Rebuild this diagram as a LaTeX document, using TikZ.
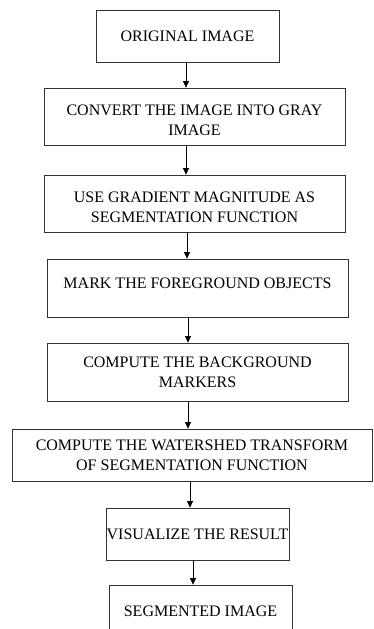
\documentclass[tikz,border=0pt]{standalone}
\usepackage{fontspec}
\setmainfont{Liberation Serif}
\usetikzlibrary{arrows.meta}
\begin{document}
\begin{tikzpicture}[x=1pt,y=1pt,
  stepbox/.style={draw=black!80,line width=0.8pt,rectangle,align=center,inner sep=0pt,
    font=\fontsize{16}{20}\selectfont},
  arr/.style={draw=black,line width=0.8pt,-{Triangle[width=6pt,length=6.5pt]}}]
\useasboundingbox (0,0) rectangle (373,-629);
\clip (0,0) rectangle (373,-629);
\node[stepbox,minimum width=183,minimum height=52] (b1) at (187.5,-36) {ORIGINAL IMAGE};
\node[stepbox,minimum width=301,minimum height=57] (b2) at (194.5,-116.5) {\rule{0pt}{18pt}CONVERT THE IMAGE INTO GRAY\\IMAGE};
\node[stepbox,minimum width=301,minimum height=57] (b3) at (194.5,-203.5) {\rule{0pt}{18pt}USE GRADIENT MAGNITUDE AS\\SEGMENTATION FUNCTION};
\node[stepbox,minimum width=301,minimum height=58] (b4) at (197.5,-288) {MARK THE FOREGROUND OBJECTS\\[-10pt]\mbox{}};
\node[stepbox,minimum width=301,minimum height=58] (b5) at (197.5,-372) {COMPUTE THE BACKGROUND\\MARKERS};
\node[stepbox,minimum width=360,minimum height=52] (b6) at (192,-455) {COMPUTE THE WATERSHED TRANSFORM\\OF SEGMENTATION FUNCTION};
\node[stepbox,minimum width=183,minimum height=52] (b7) at (197.5,-534) {VISUALIZE THE RESULT};
\node[stepbox,minimum width=183,minimum height=52] (b8) at (200.5,-611) {SEGMENTED IMAGE};
\draw[arr] ([xshift=-1.5]b1.south) -- ([xshift=-8.5]b2.north);
\draw[arr] ([xshift=-8.5]b2.south) -- ([xshift=-8.5]b3.north);
\draw[arr] ([xshift=-7.5]b3.south) -- ([xshift=-10.5]b4.north);
\draw[arr] ([xshift=-9.5]b4.south) -- ([xshift=-9.5]b5.north);
\draw[arr] ([xshift=-9.5]b5.south) -- ([xshift=-4]b6.north);
\draw[arr] ([xshift=-2]b6.south) -- ([xshift=-7.5]b7.north);
\draw[arr] ([xshift=-4.5]b7.south) -- ([xshift=-7.5]b8.north);
\end{tikzpicture}
\end{document}
